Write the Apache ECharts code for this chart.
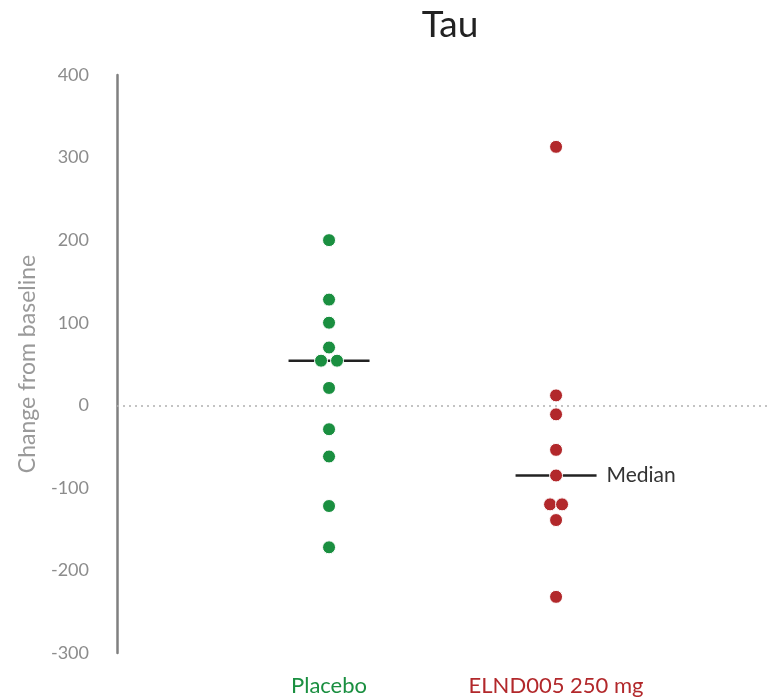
<!DOCTYPE html>
<html>
<head>
<meta charset="utf-8">
<script src="https://cdn.jsdelivr.net/npm/echarts@6/dist/echarts.min.js"></script>
<style>html,body{margin:0;padding:0;background:#fff}#c{width:769px;height:700px}</style>
</head>
<body>
<div id="c"></div>
<script>
var categories = ['Placebo', 'ELND005 250 mg'];
var placeboValues = [200, 128, 100, 70, 54, 54, 21, -29, -62, -122, -172];
var placeboOffsets = [0, 0, 0, 0, -8, 8, 0, 0, 0, 0, 0];
var elndValues = [313, 12, -11, -54, -85, -120, -120, -139, -232];
var elndOffsets = [0, 0, 0, 0, 0, -6, 6, 0, 0];
var medians = [54, -85];
var yTicks = [-300, -200, -100, 0, 100, 200, 300, 400];

var GREEN = '#1a8f40', RED = '#b2282b', FONT = 'Lato';
function pts(vals, offs, xi) {
  return vals.map(function (v, i) {
    return { value: [xi, v], symbolOffset: [offs[i], 0] };
  });
}
var chart = echarts.init(document.getElementById('c'));
chart.setOption({
  animation: false,
  title: { text: 'Tau', left: 445, top: 2, textAlign: 'center',
    textStyle: { fontFamily: FONT, fontSize: 37, fontWeight: 'normal', color: '#222' } },
  grid: { left: 117, right: 0, top: 75, bottom: 47 },
  xAxis: { type: 'value', min: 0.066, max: 2.938,
    axisLine: { show: false }, axisTick: { show: false }, splitLine: { show: false },
    axisLabel: { customValues: [1, 2], margin: 22, fontFamily: FONT, fontSize: 22,
      formatter: function (v) { return v === 1 ? '{g|' + categories[0] + '}' : '{r|' + categories[1] + '}'; },
      rich: { g: { color: GREEN, fontFamily: FONT, fontSize: 22 }, r: { color: RED, fontFamily: FONT, fontSize: 22 } } } },
  yAxis: { type: 'value', min: yTicks[0], max: yTicks[yTicks.length - 1], interval: 100,
    name: 'Change from baseline', nameLocation: 'middle', nameGap: 78,
    nameTextStyle: { color: '#9a9a9a', fontFamily: FONT, fontSize: 23 },
    axisLine: { show: true, lineStyle: { color: '#808080', width: 2.5 } },
    axisTick: { show: false }, splitLine: { show: false },
    axisLabel: { margin: 28, color: '#8c8c8c', fontFamily: FONT, fontSize: 18 } },
  series: [
    { type: 'scatter', z: 1, symbol: 'rect', symbolSize: [81, 2.5],
      itemStyle: { color: '#222', opacity: 1 },
      data: [{ value: [1, medians[0]] },
             { value: [2, medians[1]], label: { show: true, position: 'right', distance: 10,
               formatter: 'Median', color: '#333', fontFamily: FONT, fontSize: 21 } }],
      markLine: { silent: true, symbol: 'none', label: { show: false },
        lineStyle: { color: '#b0b0b0', type: [2, 4], width: 1.5 },
        data: [{ yAxis: 0 }] } },
    { type: 'scatter', z: 3, symbolSize: 13,
      itemStyle: { color: GREEN, opacity: 1, borderColor: '#fff', borderWidth: 1 },
      data: pts(placeboValues, placeboOffsets, 1) },
    { type: 'scatter', z: 3, symbolSize: 13,
      itemStyle: { color: RED, opacity: 1, borderColor: '#fff', borderWidth: 1 },
      data: pts(elndValues, elndOffsets, 2) }
  ]
});
</script>
</body>
</html>
